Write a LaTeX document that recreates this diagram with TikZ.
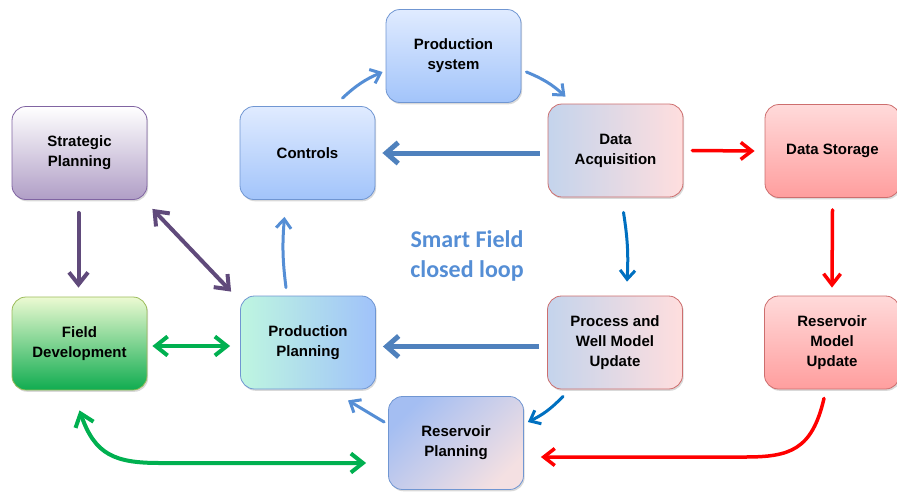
\documentclass[tikz,border=0pt]{standalone}
\usepackage{fontspec}
\setmainfont{Liberation Sans}
\newfontfamily\loopfont{Carlito}
\usetikzlibrary{arrows.meta,calc,shadows}

\definecolor{edgeblue}{RGB}{112,150,210}
\definecolor{edgered}{RGB}{205,110,110}
\definecolor{edgepurple}{RGB}{128,100,162}
\definecolor{edgegreen}{RGB}{155,187,89}
\definecolor{lightblue}{RGB}{85,142,213}
\definecolor{steelblue}{RGB}{79,129,189}
\definecolor{deepblue}{RGB}{0,112,192}
\definecolor{loopred}{RGB}{255,0,0}
\definecolor{plumline}{RGB}{96,74,123}
\definecolor{fieldgreen}{RGB}{0,176,80}

\tikzset{
  box/.style={draw, rounded corners=14pt, minimum width=135pt, minimum height=93pt,
    inner sep=2pt, align=center, line width=0.8pt,
    font=\fontsize{15}{20}\selectfont\bfseries,
    drop shadow={shadow xshift=1.2pt, shadow yshift=-1.8pt, opacity=0.3}},
  bluebox/.style={box, draw=edgeblue, top color={rgb,255:red,224;green,235;blue,255},
    bottom color={rgb,255:red,162;green,196;blue,250}},
  redbox/.style={box, draw=edgered, top color={rgb,255:red,255;green,218;blue,218},
    bottom color={rgb,255:red,255;green,158;blue,158}},
  mixbox/.style={box, draw=edgered, left color={rgb,255:red,196;green,212;blue,236},
    middle color={rgb,255:red,255;green,190;blue,190},
    right color={rgb,255:red,255;green,222;blue,222}},
  % arrows
  thin link/.style={draw=lightblue, line width=3pt, line cap=round,
    >={Straight Barb[length=9pt,width=15pt]}},
  thick link/.style={draw=steelblue, line width=5pt,
    >={Straight Barb[length=12pt,width=21pt]}},
  blue link/.style={draw=deepblue, line width=3pt, line cap=round,
    >={Straight Barb[length=9pt,width=15pt]}},
  red link/.style={draw=loopred, line width=3.5pt, line cap=round,
    >={Straight Barb[length=11pt,width=17pt]}},
  plum link/.style={draw=plumline, line width=4pt, line cap=round,
    >={Straight Barb[length=12pt,width=19pt]}},
  green link/.style={draw=fieldgreen, line width=4pt, line cap=round,
    >={Straight Barb[length=12pt,width=19pt]}},
}

\begin{document}
\begin{tikzpicture}[x=1pt, y=-1pt]
  %%%%% START %%%%%
  \useasboundingbox (0,0) rectangle (897,491);

  % top loop
  \node[bluebox] (prodsys) at (453.5,56) {Production\\system};
  \node[bluebox] (controls) at (307.5,153) {Controls};
  \node[mixbox] (dataacq) at (615.5,150.5) {Data\\Acquisition};
  \node[redbox] (storage) at (832.5,151) {Data Storage};

  % planning side
  \node[box, draw=edgepurple, top color=white,
    middle color={rgb,255:red,228;green,218;blue,234},
    bottom color={rgb,255:red,176;green,158;blue,198}] (strategic) at (79.5,153) {Strategic\\Planning};
  \node[box, draw=edgegreen, top color={rgb,255:red,236;green,250;blue,210},
    middle color={rgb,255:red,204;green,238;blue,160},
    bottom color={rgb,255:red,16;green,172;blue,80}] (fielddev) at (79.5,343.5) {Field\\Development};
  \node[box, draw=edgeblue, left color={rgb,255:red,190;green,246;blue,224},
    right color={rgb,255:red,160;green,194;blue,250}] (prodplan) at (308,342.5) {Production\\Planning};

  % model update row
  \node[mixbox] (procwell) at (615,342.5) {Process and\\Well Model\\Update};
  \node[redbox] (resmodel) at (832,342.5) {Reservoir\\Model\\Update};
  \node[box, draw=edgeblue, top color={rgb,255:red,164;green,190;blue,242},
    middle color={rgb,255:red,230;green,182;blue,184},
    bottom color={rgb,255:red,244;green,224;blue,226}, shading angle=45] (resplan) at (456,443) {Reservoir\\Planning};

  \node[text=lightblue, align=center, font=\fontsize{24}{30}\selectfont\loopfont\bfseries] (looplabel) at (467,256) {Smart Field\\closed loop};

  % connectors
  \draw[thin link, ->] ($(controls.north)+(35,-8)$) to[bend left=10] ($(prodsys.west)+(-3,16)$);
  \draw[thin link, ->] ($(prodsys.east)+(5,16)$) to[bend left=10] ($(dataacq.north)+(-50,-7)$);
  \draw[thick link, ->] ($(dataacq.west)+(-8,2.5)$) -- ($(controls.east)+(7,0)$);
  \draw[red link, ->] ($(dataacq.east)+(9,0)$) -- ($(storage.west)+(-10,0)$);
  \draw[red link, ->] ($(storage.south)+(0,12)$) -- ($(resmodel.north)+(0,-8)$);
  \draw[blue link, ->] ($(dataacq.south)+(8,15)$) to[bend left=6] ($(procwell.north)+(12,-14)$);
  \draw[thick link, ->] ($(procwell.west)+(-8,4)$) -- ($(prodplan.east)+(7,4)$);
  \draw[blue link, ->] ($(procwell.south)+(-52,7)$) to[bend left=10] ($(resplan.east)+(4,-21)$);
  \draw[thin link, ->] ($(resplan.west)+(-4,-21)$) -- ($(prodplan.south)+(40,11)$);
  \draw[thin link, ->] ($(prodplan.north)+(-22,-8)$) to[bend left=6] ($(controls.south)+(-23,17)$);
  \draw[red link, ->] ($(resmodel.south)+(-8,9)$) .. controls (812,450) and (790,457) .. (745,457) -- ($(resplan.east)+(17,14)$);

  \draw[plum link, <->] ($(strategic.south east)+(5,9)$) -- ($(prodplan.north west)+(-9,-4)$);
  \draw[plum link, ->] ($(strategic.south)+(-1,13)$) -- ($(fielddev.north)+(-1,-9)$);
  \draw[green link, <->] ($(fielddev.east)+(5,2.5)$) -- ($(prodplan.west)+(-10,3.5)$);
  \draw[green link, <->] ($(fielddev.south)+(0,20)$) .. controls (95,455) and (115,463) .. (160,463) -- ($(resplan.west)+(-22,20)$);

  %%%%% END %%%%%
\end{tikzpicture}
\end{document}
